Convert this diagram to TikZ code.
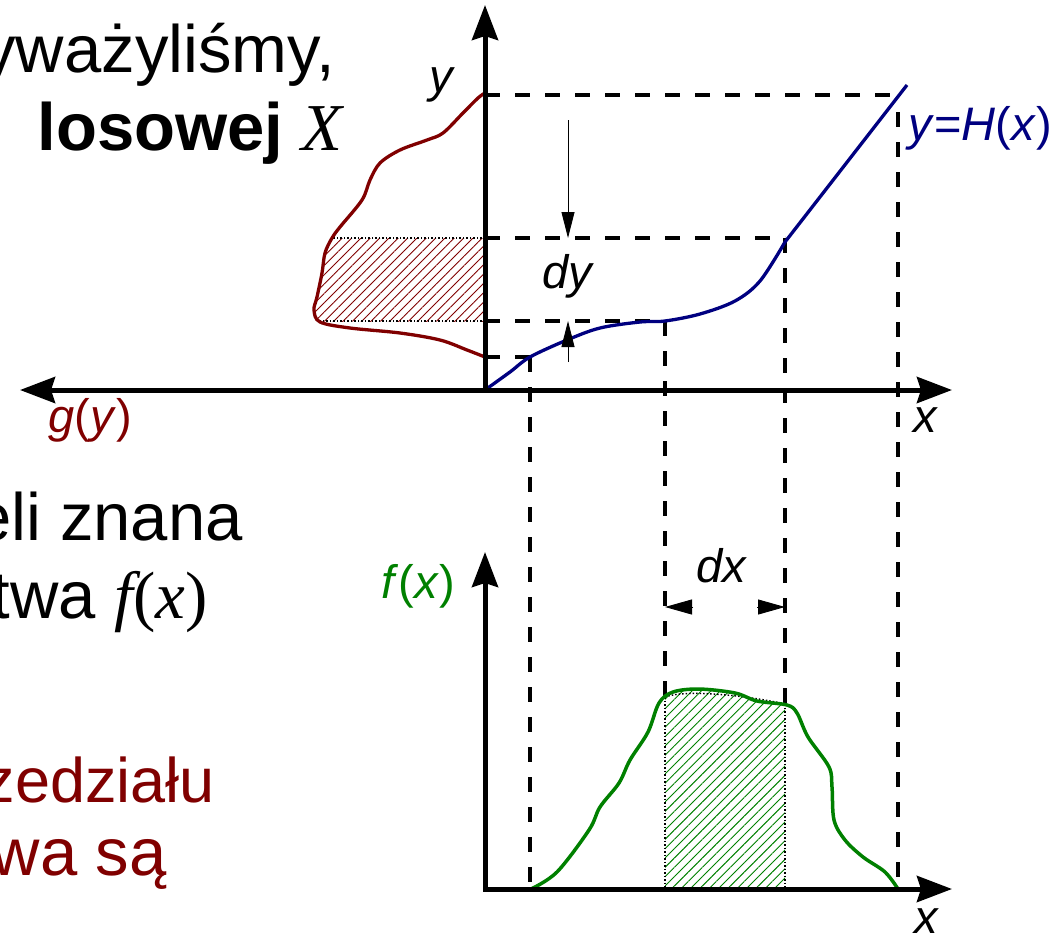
\documentclass[tikz,border=0pt]{standalone}
\usepackage{fontspec}
\setmainfont{Liberation Sans}
\newfontfamily\mathserif{Liberation Serif}
\usetikzlibrary{arrows.meta, patterns.meta, calc}
\definecolor{DensityRed}{RGB}{128,0,0}
\definecolor{MapBlue}{RGB}{0,0,128}
\definecolor{DensityGreen}{RGB}{0,128,0}

\def\gcurve{plot[smooth, tension=0.55] coordinates {(485,93) (478,98) (463,113) (443,133) (427,140) (400,150) (380,163) (370,180) (362,200) (340,227) (332,238) (325,253) (322,273) (317,297) (314,310) (320,322) (350,328) (400,333) (440,340) (467,350) (485,357)}}
\def\fcurve{plot[smooth, tension=0.55] coordinates {(531,889) (557,872) (589,830) (600,807) (619,783) (630,760) (648,732) (659,703) (673,692) (699,689) (735,693) (757,701) (787,705) (797,713) (808,737) (829,767) (832,787) (834,820) (845,840) (863,857) (885,872) (898,889)}}
\newcommand{\lpar}{\textup{(}}
\newcommand{\rpar}{\textup{)}}

\begin{document}
\begin{tikzpicture}[
    x=1pt, y=-1pt,
    >={Stealth[length=35pt, width=26pt, inset=4pt]},
    axis/.style={line width=5pt, line join=miter},
    guide/.style={line width=3.5pt, dash pattern=on 15pt off 15pt},
    border/.style={line width=1.4pt, dash pattern=on 1.5pt off 2pt},
    dimline/.style={line width=0.9pt, -{Triangle[length=26pt, width=13pt]}},
    dxtip/.style={line width=0.9pt, -{Triangle[length=27pt, width=15pt]}},
    body/.style={font=\fontsize{67}{80}\selectfont, anchor=base east, inner sep=0pt},
    lbl/.style={font=\fontsize{47}{56}\selectfont\itshape, anchor=base, inner sep=0pt},
    hatch/.style={pattern={Lines[angle=45, distance=6.6pt, line width=0.9pt]}}
  ]
  \useasboundingbox (0,0) rectangle (1052,935);
  \clip (0,0) rectangle (1052,935);

  \node[body] (line1) at (335,72) {yważyliśmy,};
  \node[body] (line2) at (343,150) {\textbf{losowej} {\mathserif\itshape X}};
  \node[body] (line3) at (243,540) {eli znana};
  \node[body] (line4) at (208,618) {twa {\mathserif\itshape f}{\mathserif(\itshape x\upshape)}};
  \node[body, font=\fontsize{63}{76}\selectfont, text=DensityRed] (line5) at (215,802) {zedziału};
  \node[body, text=DensityRed] (line6) at (167,875) {wa są};

  \coordinate (O) at (485,390);
  \coordinate (ytip) at (485,5);
  \coordinate (xtip) at (952,390);
  \coordinate (gtip) at (20,390);
  \coordinate (O2) at (485,889);
  \coordinate (ftip) at (485,552);
  \coordinate (x2tip) at (952,889);

  \coordinate (h0) at (530,357);
  \coordinate (h1) at (665,321);
  \coordinate (h2) at (785,238);
  \coordinate (h3) at (898,95);
  \coordinate (f1) at (665,697);
  \coordinate (f2) at (785,704);

  \begin{scope}
    \clip \gcurve -- cycle;
    \fill[hatch, pattern color=DensityRed] (300,238) rectangle (485,321);
  \end{scope}
  \begin{scope}
    \clip \fcurve -- cycle;
    \fill[hatch, pattern color=DensityGreen] (h1 |- 0,680) rectangle (h2 |- O2);
  \end{scope}
  \draw[border] (O |- h2) -- (332,238);
  \draw[border] (O |- h1) -- (317,321);
  \draw[border] (f1) -- (h1 |- O2);
  \draw[border] (f2) -- (h2 |- O2);
  \draw[border] (f1) .. controls (690,688) and (760,698) .. (f2);

  \draw[guide] (O |- h3) -- (h3);
  \draw[guide] ($(h3)+(0,17)$) -- (h3 |- O2);
  \draw[guide] (O |- h2) -- (h2);
  \draw[guide] (h2) -- (f2);
  \draw[guide] (O |- h1) -- (h1);
  \draw[guide] (h1) -- (f1);
  \draw[guide] (O |- h0) -- (h0);
  \draw[guide] (h0) -- (h0 |- O2);

  \draw[line width=3.3pt, DensityRed] \gcurve;
  \draw[line width=3.3pt, MapBlue] plot[smooth, tension=0.55] coordinates {(O) (510,372) (h0) (567,340) (600,328) (640,322) (h1) (700,314) (735,301) (760,281) (785,242)} -- (907,85);
  \draw[line width=3.5pt, DensityGreen] \fcurve;

  \draw[axis, <->] (gtip) -- (xtip);
  \draw[axis, ->] (O) -- (ytip);
  \draw[axis, <->] (ftip) -- (O2) -- (x2tip);

  \coordinate (dyA) at (568,120);
  \coordinate (dyB) at (568,362);
  \draw[dimline] (dyA) -- (dyA |- h2);
  \draw[dimline] (dyB) -- (dyB |- h1);
  \coordinate (dxL) at (665,607);
  \coordinate (dxR) at (785,607);
  \draw[dxtip] ($(dxL)+(28,0)$) -- (dxL);
  \draw[dxtip] ($(dxR)-(28,0)$) -- (dxR);

  \node[lbl] (ylab) at (441,92) {y};
  \node[lbl, anchor=base west, text=MapBlue] (hlab) at (908,140) {y\textup{=}H\lpar x\rpar};
  \node[lbl] (xlab) at (925,432) {x};
  \node[lbl, text=DensityRed] (glab) at (90,432) {g\lpar y\rpar};
  \node[lbl, text=DensityGreen] (flab) at (418,598) {f\lpar x\rpar};
  \node[lbl] (dylab) at (567,288) {dy};
  \node[lbl] (dxlab) at (721,582) {dx};
  \node[lbl] (x2lab) at (926,933) {x};
\end{tikzpicture}
\end{document}
